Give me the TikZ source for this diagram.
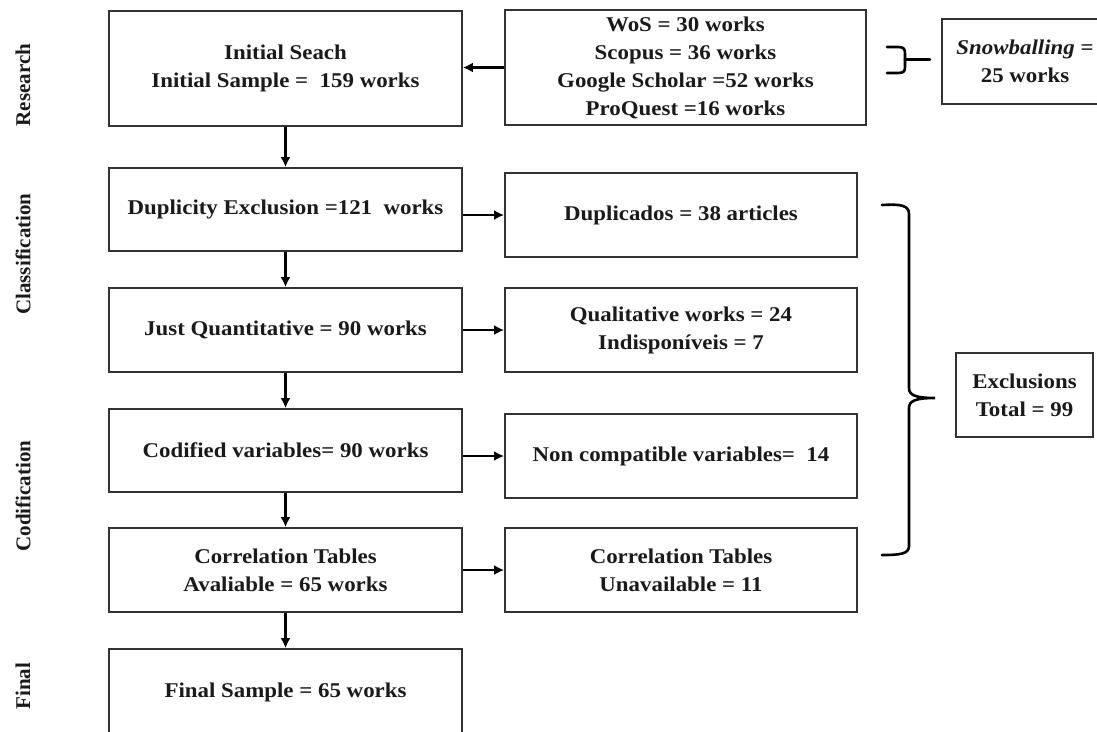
\documentclass[tikz,border=0pt]{standalone}
\usepackage{fontspec}
\setmainfont[FakeStretch=1.09]{Liberation Serif}
\newfontfamily\labfont{Liberation Serif}
\usetikzlibrary{arrows.meta}
\definecolor{boxline}{HTML}{333333}
\definecolor{txt}{HTML}{1A1A1A}
\tikzset{
  box/.style={draw=boxline, line width=1.8pt, text=txt, align=center, inner sep=0pt,
    font=\fontsize{21}{28}\selectfont\bfseries},
  lbox/.style={box, minimum width=353, },
  rbox/.style={box, minimum width=352},
  arr/.style={line width=2.8pt, -{Latex[length=10pt,width=10pt]}},
  brace/.style={line width=2.6pt, line cap=round},
  lab/.style={rotate=90, text=txt, inner sep=0pt, font=\labfont\fontsize{21}{24}\selectfont\bfseries}
}
\begin{document}
\begin{tikzpicture}[x=1pt,y=-1pt]
\useasboundingbox (0,0) rectangle (1097,731);
% stage labels
\node[lab] (lres) at (23,85) {Research};
\node[lab] (lcla) at (23,254) {Classification};
\node[lab] (lcod) at (23,496) {Codification};
\node[lab] (lfin) at (23,686) {Final};
% left column
\node[lbox, minimum height=115] (b1) at (285.5,68.5) {Initial Seach\\Initial Sample =\ \ 159 works};
\node[lbox, minimum height=83] (b2) at (285.5,209.5) {Duplicity Exclusion =121\ \ works};
\node[lbox, minimum height=84] (b3) at (285.5,330) {Just Quantitative = 90 works};
\node[lbox, minimum height=83] (b4) at (285.5,450.5) {Codified variables= 90 works};
\node[lbox, minimum height=84] (b5) at (285.5,570) {Correlation Tables\\Avaliable = 65 works};
\node[lbox, minimum height=86] (b6) at (285.5,692) {Final Sample = 65 works};
% right column
\node[box, minimum width=361, minimum height=115] (src) at (685.5,67.5) {WoS = 30 works\\Scopus = 36 works\\Google Scholar =52 works\\ProQuest =16 works};
\node[rbox, minimum height=84] (r2) at (681,215) {Duplicados = 38 articles};
\node[rbox, minimum height=84] (r3) at (681,330) {Qualitative works = 24\\Indispon\'iveis = 7};
\node[rbox, minimum height=84] (r4) at (681,456) {Non compatible variables=\ \ 14};
\node[rbox, minimum height=84] (r5) at (681,570) {Correlation Tables\\Unavailable = 11};
% far right
\node[box, minimum width=166, minimum height=85] (snow) at (1025,61.5) {\textit{Snowballing} =\\25 works};
\node[box, minimum width=137, minimum height=84] (excl) at (1024.5,395) {Exclusions\\Total = 99};
% vertical arrows
\draw[arr] (b1.south) -- (b2.north);
\draw[arr] (b2.south) -- (b3.north);
\draw[arr] (b3.south) -- (b4.north);
\draw[arr] (b4.south) -- (b5.north);
\draw[arr] (b5.south) -- (b6.north);
% horizontal arrows
\draw[arr] (src.west) -- (src.west -| b1.east);
\draw[arr] (b2.east |- r2.west) -- (r2.west);
\draw[arr] (b3.east |- r3.west) -- (r3.west);
\draw[arr] (b4.east |- r4.west) -- (r4.west);
\draw[arr] (b5.east |- r5.west) -- (r5.west);
% small brace
\draw[brace] (887,47) -- (898,47) .. controls (904,47) and (905,49) .. (905,54) -- (905,67) .. controls (905,71) and (904,73) .. (898,73) -- (887,73);
\draw[brace] (905,59.5) -- (930,59.5);
% big brace
\draw[brace] (882,205) .. controls (900,204) and (909,205) .. (909,214) -- (909,388)
  .. controls (909,395) and (915,398) .. (935,398)
  .. controls (915,398) and (909,401) .. (909,408) -- (909,546)
  .. controls (909,554) and (900,555) .. (882,555);
\end{tikzpicture}
\end{document}
